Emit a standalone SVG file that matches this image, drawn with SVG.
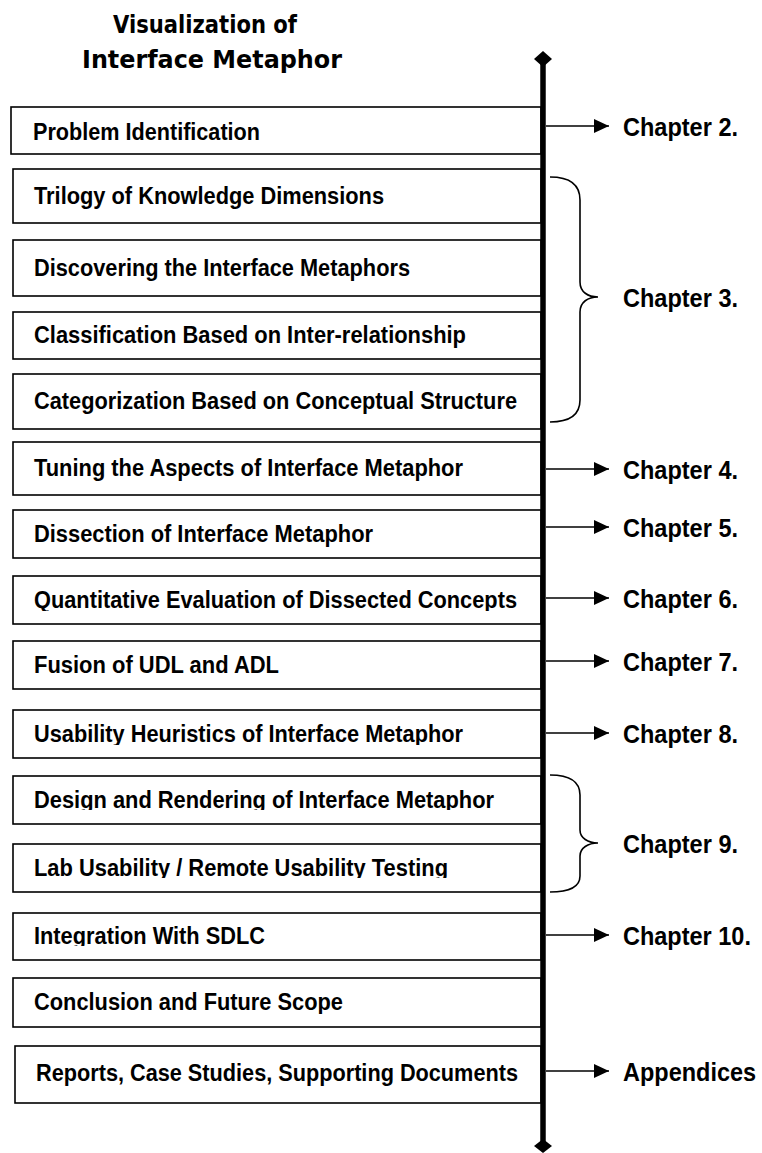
<svg xmlns="http://www.w3.org/2000/svg" width="762" height="1153" viewBox="0 0 762 1153">
  <style>
    .title { font-family: "DejaVu Sans", Verdana, sans-serif; font-weight: bold; font-size: 24px; fill: #000; }
    .box { fill: #fff; stroke: #000; stroke-width: 1.6; }
    .lbl { font-family: "Liberation Sans", Arial, sans-serif; font-weight: bold; font-size: 23.5px; fill: #000; }
    .ch { font-family: "Liberation Sans", Arial, sans-serif; font-weight: bold; font-size: 26px; fill: #000; }
    .ch-wide { font-size: 23.5px; }
    .arrow { stroke: #000; stroke-width: 1.6; fill: none; marker-end: url(#head); }
    .brace { stroke: #000; stroke-width: 1.6; fill: none; }
    .spine { stroke: #000; stroke-width: 5.5; }
  </style>
  <defs>
    <marker id="head" markerUnits="userSpaceOnUse" markerWidth="16" markerHeight="14" refX="15" refY="7" orient="auto">
      <path d="M0,0 L15,7 L0,14 Z" fill="#000"/>
    </marker>
    <!-- descender clipping inside tight text boxes -->
    <clipPath id="c4"><rect x="0" y="312" width="541" height="45"/></clipPath>
    <clipPath id="c7"><rect x="0" y="510" width="541" height="44"/></clipPath>
    <clipPath id="c8"><rect x="0" y="576" width="541" height="35"/></clipPath>
    <clipPath id="c10"><rect x="0" y="710" width="541" height="35"/></clipPath>
    <clipPath id="c11"><rect x="0" y="776" width="541" height="34"/></clipPath>
    <clipPath id="c12"><rect x="0" y="844" width="541" height="34"/></clipPath>
    <clipPath id="c13"><rect x="0" y="913" width="541" height="33"/></clipPath>
    <clipPath id="c14"><rect x="0" y="978" width="541" height="36"/></clipPath>
  </defs>

  <rect width="762" height="1153" fill="#fff"/>

  <g id="title">
    <text class="title" x="113" y="33" textLength="184" lengthAdjust="spacingAndGlyphs">Visualization of</text>
    <text class="title" x="82" y="68" textLength="260" lengthAdjust="spacingAndGlyphs">Interface Metaphor</text>
  </g>

  <g id="n1"><rect class="box" x="11" y="107" width="530" height="47"/>
    <text class="lbl" x="33" y="140" textLength="227" lengthAdjust="spacingAndGlyphs">Problem Identification</text></g>
  <g id="n2"><rect class="box" x="13" y="169" width="528" height="54"/>
    <text class="lbl" x="34" y="204" textLength="350" lengthAdjust="spacingAndGlyphs">Trilogy of Knowledge Dimensions</text></g>
  <g id="n3"><rect class="box" x="13" y="240" width="528" height="56"/>
    <text class="lbl" x="34" y="276" textLength="376" lengthAdjust="spacingAndGlyphs">Discovering the Interface Metaphors</text></g>
  <g id="n4"><rect class="box" x="13" y="312" width="528" height="47"/>
    <text class="lbl" x="34" y="343" clip-path="url(#c4)" textLength="432" lengthAdjust="spacingAndGlyphs">Classification Based on Inter-relationship</text></g>
  <g id="n5"><rect class="box" x="13" y="374" width="528" height="55"/>
    <text class="lbl" x="34" y="409" textLength="483" lengthAdjust="spacingAndGlyphs">Categorization Based on Conceptual Structure</text></g>
  <g id="n6"><rect class="box" x="13" y="442" width="528" height="53"/>
    <text class="lbl" x="34" y="476" textLength="429" lengthAdjust="spacingAndGlyphs">Tuning the Aspects of Interface Metaphor</text></g>
  <g id="n7"><rect class="box" x="13" y="510" width="528" height="48"/>
    <text class="lbl" x="34" y="542" clip-path="url(#c7)" textLength="339" lengthAdjust="spacingAndGlyphs">Dissection of Interface Metaphor</text></g>
  <g id="n8"><rect class="box" x="13" y="576" width="528" height="48"/>
    <text class="lbl" x="34" y="608" clip-path="url(#c8)" textLength="483" lengthAdjust="spacingAndGlyphs">Quantitative Evaluation of Dissected Concepts</text></g>
  <g id="n9"><rect class="box" x="13" y="641" width="528" height="48"/>
    <text class="lbl" x="34" y="673" textLength="245" lengthAdjust="spacingAndGlyphs">Fusion of UDL and ADL</text></g>
  <g id="n10"><rect class="box" x="13" y="710" width="528" height="48"/>
    <text class="lbl" x="34" y="742" clip-path="url(#c10)" textLength="429" lengthAdjust="spacingAndGlyphs">Usability Heuristics of Interface Metaphor</text></g>
  <g id="n11"><rect class="box" x="13" y="776" width="528" height="48"/>
    <text class="lbl" x="34" y="808" clip-path="url(#c11)" textLength="460" lengthAdjust="spacingAndGlyphs">Design and Rendering of Interface Metaphor</text></g>
  <g id="n12"><rect class="box" x="13" y="844" width="528" height="48"/>
    <text class="lbl" x="34" y="876" clip-path="url(#c12)" textLength="414" lengthAdjust="spacingAndGlyphs">Lab Usability / Remote Usability Testing</text></g>
  <g id="n13"><rect class="box" x="13" y="913" width="528" height="47"/>
    <text class="lbl" x="34" y="944" clip-path="url(#c13)" textLength="231" lengthAdjust="spacingAndGlyphs">Integration With SDLC</text></g>
  <g id="n14"><rect class="box" x="13" y="978" width="528" height="49"/>
    <text class="lbl" x="34" y="1010" clip-path="url(#c14)" textLength="309" lengthAdjust="spacingAndGlyphs">Conclusion and Future Scope</text></g>
  <g id="n15"><rect class="box" x="15" y="1046" width="526" height="57"/>
    <text class="lbl" x="36" y="1081" textLength="482" lengthAdjust="spacingAndGlyphs">Reports, Case Studies, Supporting Documents</text></g>

  <g id="spine">
    <line class="spine" x1="543" y1="59" x2="543" y2="1147"/>
    <path d="M543,51 L552,59 L543,67 L534,59 Z" fill="#000"/>
    <path d="M543,1139 L552,1146 L543,1153 L534,1146 Z" fill="#000"/>
  </g>

  <g id="connectors">
    <line class="arrow" x1="546" y1="126" x2="609" y2="126"/>
    <line class="arrow" x1="546" y1="469" x2="609" y2="469"/>
    <line class="arrow" x1="546" y1="527" x2="609" y2="527"/>
    <line class="arrow" x1="546" y1="598" x2="609" y2="598"/>
    <line class="arrow" x1="546" y1="661" x2="609" y2="661"/>
    <line class="arrow" x1="546" y1="733" x2="609" y2="733"/>
    <line class="arrow" x1="546" y1="935" x2="609" y2="935"/>
    <line class="arrow" x1="546" y1="1071" x2="609" y2="1071"/>
    <path class="brace" d="M550,177 C570,177 580,184 580,200 L580,282 C580,292 588,297 598,297 C588,297 580,302 580,312 L580,400 C580,414 570,422 550,422"/>
    <path class="brace" d="M550,775 C570,775 580,781 580,795 L580,830 C580,838 588,843 598,843 C588,843 580,848 580,856 L580,876 C580,887 570,892 550,892"/>
  </g>

  <g id="targets">
    <text class="ch" x="623" y="136" textLength="115" lengthAdjust="spacingAndGlyphs">Chapter 2.</text>
    <text class="ch" x="623" y="307" textLength="115" lengthAdjust="spacingAndGlyphs">Chapter 3.</text>
    <text class="ch" x="623" y="479" textLength="115" lengthAdjust="spacingAndGlyphs">Chapter 4.</text>
    <text class="ch" x="623" y="537" textLength="115" lengthAdjust="spacingAndGlyphs">Chapter 5.</text>
    <text class="ch" x="623" y="608" textLength="115" lengthAdjust="spacingAndGlyphs">Chapter 6.</text>
    <text class="ch" x="623" y="671" textLength="115" lengthAdjust="spacingAndGlyphs">Chapter 7.</text>
    <text class="ch" x="623" y="743" textLength="115" lengthAdjust="spacingAndGlyphs">Chapter 8.</text>
    <text class="ch" x="623" y="853" textLength="115" lengthAdjust="spacingAndGlyphs">Chapter 9.</text>
    <text class="ch ch-wide" transform="translate(623,945) scale(1,1.1)" x="0" y="0">Chapter 10.</text>
    <text class="ch ch-wide" transform="translate(623,1081) scale(1,1.1)" x="0" y="0">Appendices</text>
  </g>
</svg>
